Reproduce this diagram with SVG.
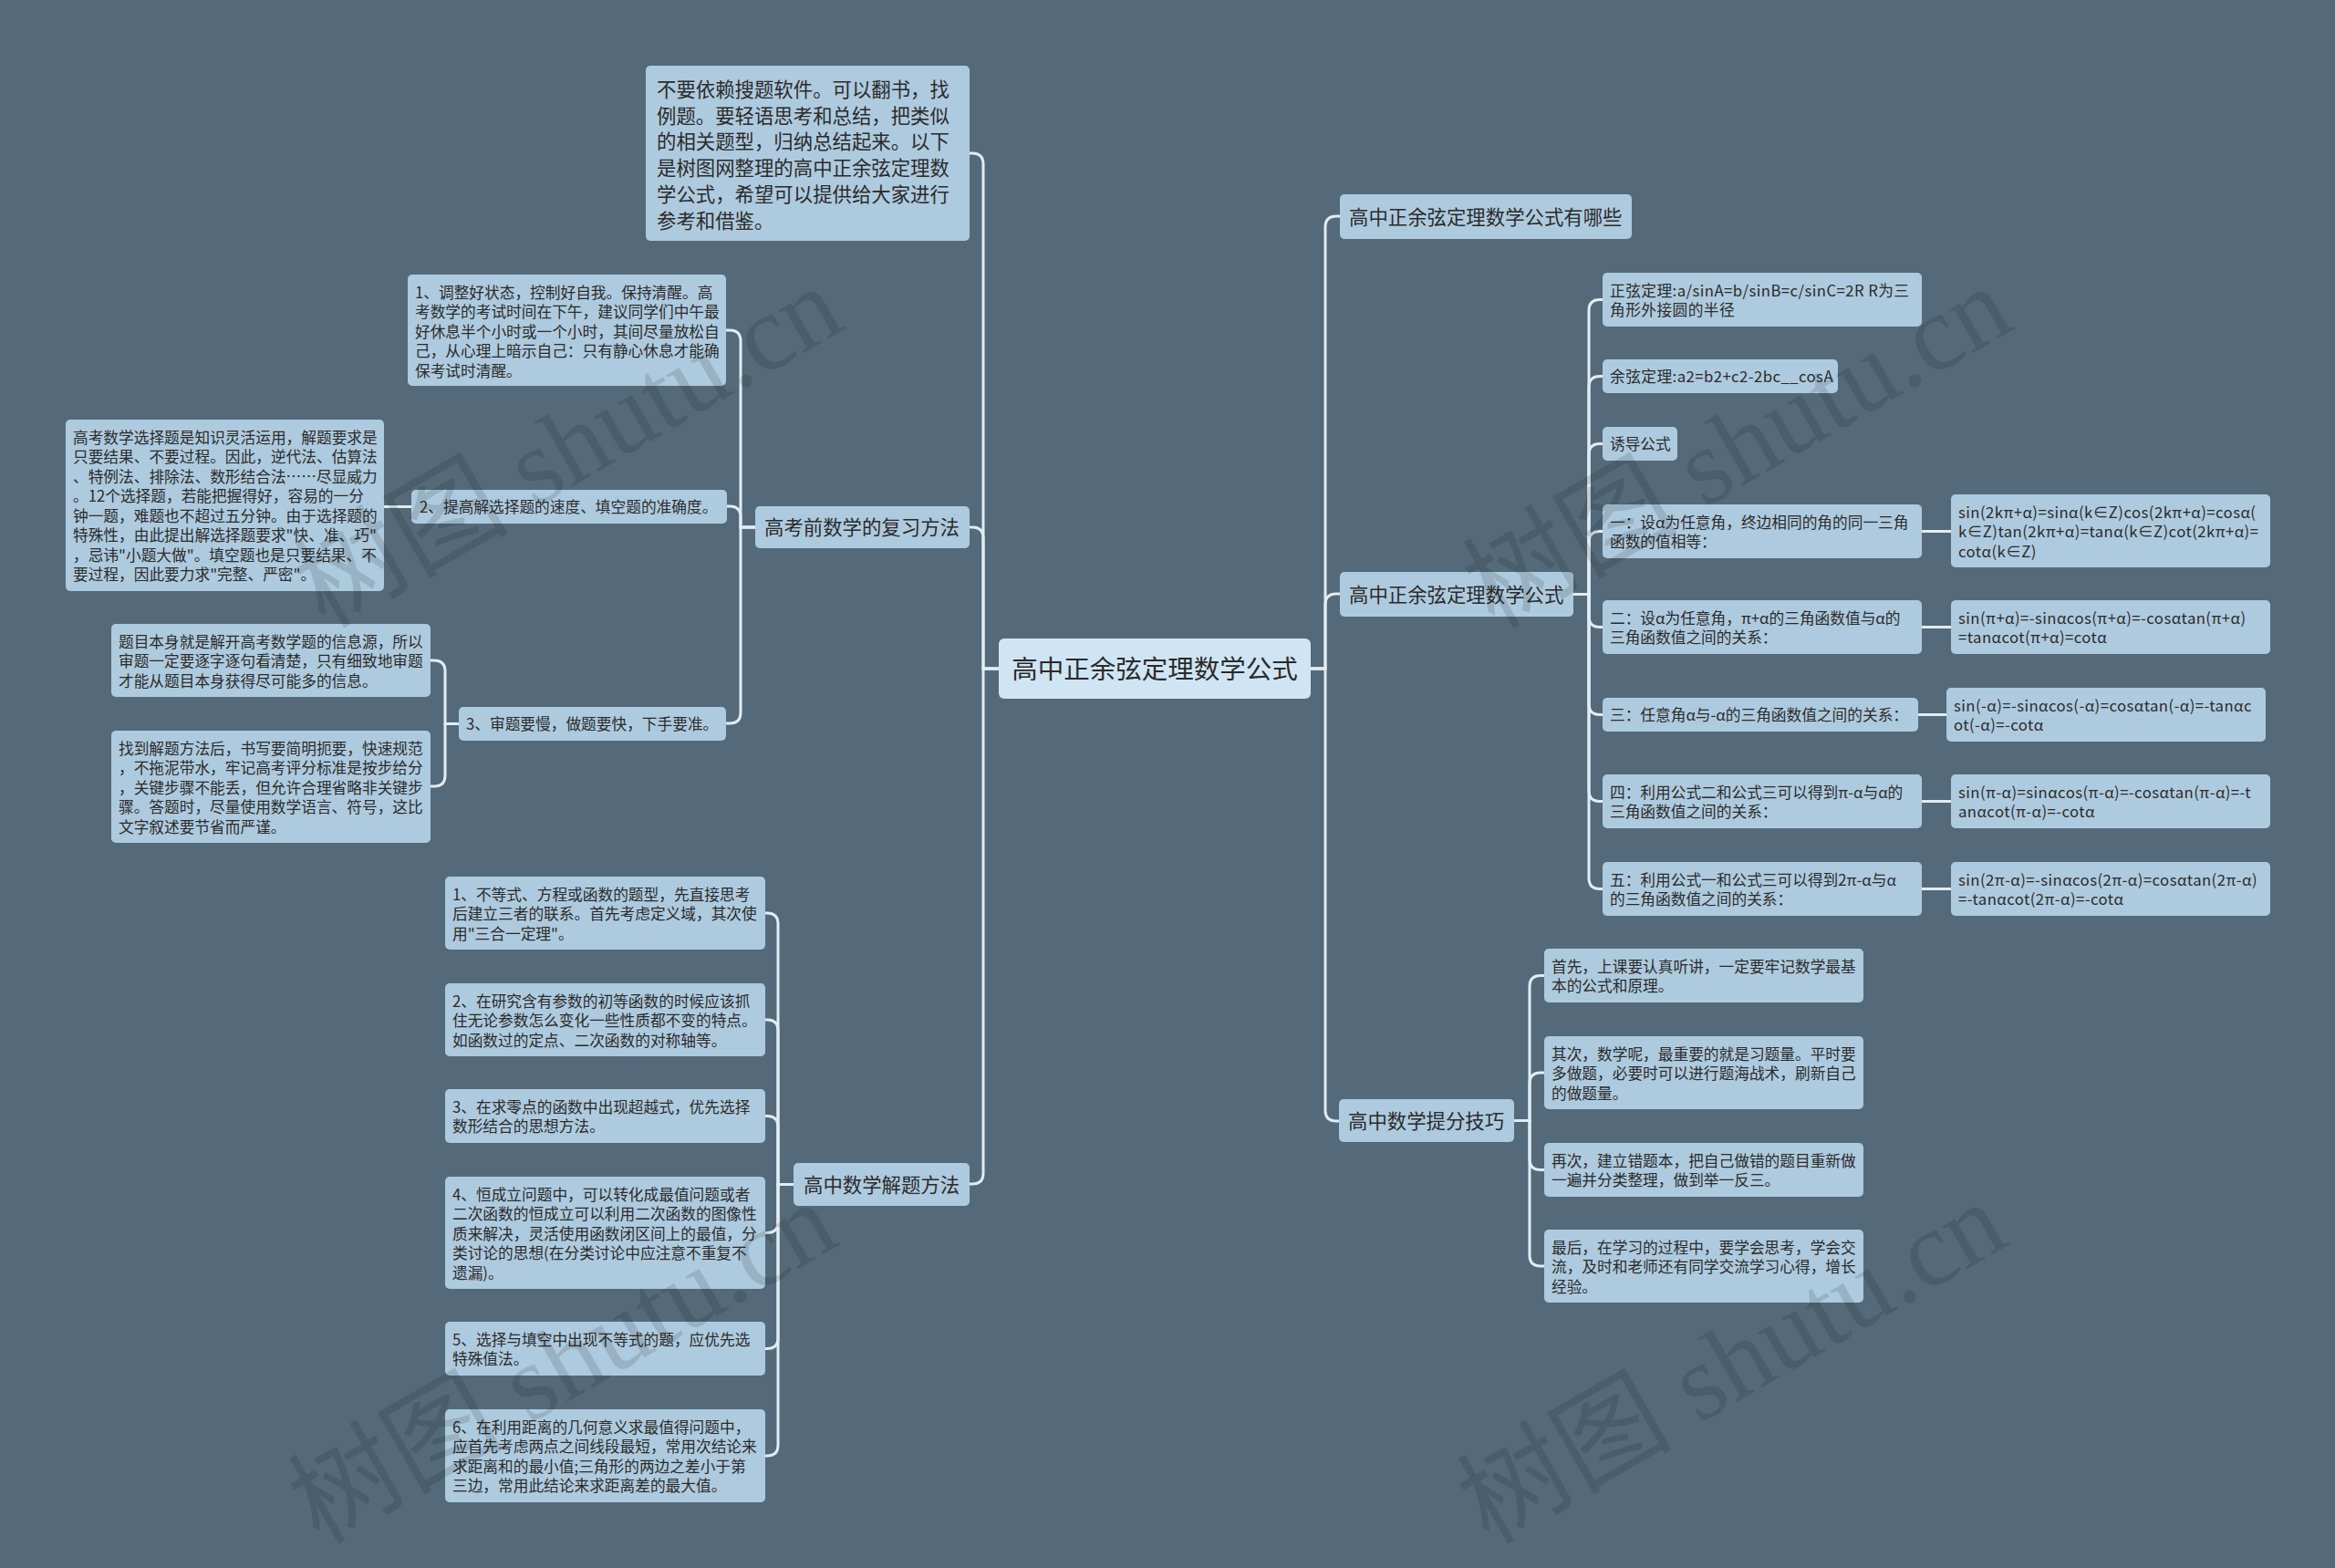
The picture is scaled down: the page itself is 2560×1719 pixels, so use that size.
<svg xmlns="http://www.w3.org/2000/svg" width="2560" height="1719" viewBox="0 0 2560 1719">
<style>
.bg{fill:#546a7a}
.box{fill:#aecade}
.rootbox{fill:#d0e5f3}
text{font-family:"Noto Sans CJK SC","Microsoft YaHei",sans-serif;fill:#2b2b2b}
.s{font-size:16.7px}
.m{font-size:21.4px}
.l{font-size:28.5px}
.f{letter-spacing:0.45px}
.conn path{fill:none;stroke:#e2ecf3;stroke-width:3;stroke-linecap:round}
.wm{font-family:"Liberation Serif","Noto Sans CJK SC",serif;font-size:118px;fill:#000;fill-opacity:0.12}
</style>
<rect class="bg" x="0" y="0" width="2560" height="1719"/>

<g class="conn" id="connectors">
<path d="M1095 733 H1078 V180 Q1078 168 1066 168 H1063"/>
<path d="M1095 733 H1078 V590 Q1078 578 1066 578 H1063"/>
<path d="M1095 733 H1078 V1286 Q1078 1298 1066 1298 H1063"/>
<path d="M1437 733 H1453 V249 Q1453 237 1465 237 H1469"/>
<path d="M1437 733 H1453 V663 Q1453 651 1465 651 H1469"/>
<path d="M1437 733 H1453 V1217 Q1453 1229 1465 1229 H1468"/>
<path d="M828 578 H812 V374 Q812 362 800 362 H796"/>
<path d="M828 578 H812 V567 Q812 555 800 555 H797"/>
<path d="M828 578 H812 V781 Q812 793 800 793 H796"/>
<path d="M451 555.5 H421"/>
<path d="M503 793.5 H488 V736 Q488 724 476 724 H472"/>
<path d="M503 793.5 H488 V850 Q488 862 476 862 H472"/>
<path d="M870 1298.5 H853 V1013 Q853 1001 841 1001 H839"/>
<path d="M870 1298.5 H853 V1130 Q853 1118 841 1118 H839"/>
<path d="M870 1298.5 H853 V1235.5 Q853 1223.5 841 1223.5 H839"/>
<path d="M870 1298.5 H853 V1339.5 Q853 1351.5 841 1351.5 H839"/>
<path d="M870 1298.5 H853 V1466.5 Q853 1478.5 841 1478.5 H839"/>
<path d="M870 1298.5 H853 V1584 Q853 1596 841 1596 H839"/>
<path d="M1725 651.5 H1742 V340.5 Q1742 328.5 1754 328.5 H1757"/>
<path d="M1725 651.5 H1742 V424.5 Q1742 412.5 1754 412.5 H1757"/>
<path d="M1725 651.5 H1742 V498.5 Q1742 486.5 1754 486.5 H1757"/>
<path d="M1725 651.5 H1742 V594.5 Q1742 582.5 1754 582.5 H1757"/>
<path d="M1725 651.5 H1742 V675.5 Q1742 687.5 1754 687.5 H1757"/>
<path d="M1725 651.5 H1742 V771.5 Q1742 783.5 1754 783.5 H1757"/>
<path d="M1725 651.5 H1742 V866.5 Q1742 878.5 1754 878.5 H1757"/>
<path d="M1725 651.5 H1742 V962.5 Q1742 974.5 1754 974.5 H1757"/>
<path d="M2107 582.5 H2139"/>
<path d="M2107 687.5 H2139"/>
<path d="M2103 783.5 H2134"/>
<path d="M2107 878.5 H2139"/>
<path d="M2107 974.5 H2139"/>
<path d="M1660 1228.5 H1677 V1081.5 Q1677 1069.5 1689 1069.5 H1693"/>
<path d="M1660 1228.5 H1677 V1188 Q1677 1176 1689 1176 H1693"/>
<path d="M1660 1228.5 H1677 V1270.5 Q1677 1282.5 1689 1282.5 H1693"/>
<path d="M1660 1228.5 H1677 V1376 Q1677 1388 1689 1388 H1693"/>
</g>

<g id="root">
<rect class="rootbox" x="1095" y="700" width="342" height="66" rx="6"/>
<text class="l" x="1266" y="744" text-anchor="middle">高中正余弦定理数学公式</text>
</g>

<g id="intro">
<rect class="box" x="708" y="72" width="355" height="192" rx="5"/>
<text class="m" x="720"><tspan x="720" y="106">不要依赖搜题软件。可以翻书，找</tspan><tspan x="720" y="134.7">例题。要轻语思考和总结，把类似</tspan><tspan x="720" y="163.4">的相关题型，归纳总结起来。以下</tspan><tspan x="720" y="192.1">是树图网整理的高中正余弦定理数</tspan><tspan x="720" y="220.8">学公式，希望可以提供给大家进行</tspan><tspan x="720" y="249.5">参考和借鉴。</tspan></text>
</g>

<g id="review">
<rect class="box" x="828" y="555" width="235" height="46" rx="5"/>
<text class="m" x="838" y="586">高考前数学的复习方法</text>
</g>

<g id="review-1">
<rect class="box" x="447" y="301" width="349" height="122" rx="5"/>
<text class="s"><tspan x="455" y="326.5">1、调整好状态，控制好自我。保持清醒。高</tspan><tspan x="455" y="348">考数学的考试时间在下午，建议同学们中午最</tspan><tspan x="455" y="369.5">好休息半个小时或一个小时，其间尽量放松自</tspan><tspan x="455" y="391">己，从心理上暗示自己：只有静心休息才能确</tspan><tspan x="455" y="412.5">保考试时清醒。</tspan></text>
</g>

<g id="review-2">
<rect class="box" x="451" y="537" width="346" height="37" rx="5"/>
<text class="s" x="460" y="562">2、提高解选择题的速度、填空题的准确度。</text>
</g>

<g id="review-2a">
<rect class="box" x="72" y="460" width="349" height="188" rx="5"/>
<text class="s"><tspan x="80" y="485.5">高考数学选择题是知识灵活运用，解题要求是</tspan><tspan x="80" y="507">只要结果、不要过程。因此，逆代法、估算法</tspan><tspan x="80" y="528.5">、特例法、排除法、数形结合法……尽显威力</tspan><tspan x="80" y="550">。12个选择题，若能把握得好，容易的一分</tspan><tspan x="80" y="571.5">钟一题，难题也不超过五分钟。由于选择题的</tspan><tspan x="80" y="593">特殊性，由此提出解选择题要求"快、准、巧"</tspan><tspan x="80" y="614.5">，忌讳"小题大做"。填空题也是只要结果、不</tspan><tspan x="80" y="636">要过程，因此要力求"完整、严密"。</tspan></text>
</g>

<g id="review-3">
<rect class="box" x="503" y="775" width="293" height="37" rx="5"/>
<text class="s" x="511" y="800">3、审题要慢，做题要快，下手要准。</text>
</g>

<g id="review-3a">
<rect class="box" x="122" y="684" width="350" height="80" rx="5"/>
<text class="s"><tspan x="130" y="709.5">题目本身就是解开高考数学题的信息源，所以</tspan><tspan x="130" y="731">审题一定要逐字逐句看清楚，只有细致地审题</tspan><tspan x="130" y="752.5">才能从题目本身获得尽可能多的信息。</tspan></text>
</g>

<g id="review-3b">
<rect class="box" x="122" y="801" width="350" height="123" rx="5"/>
<text class="s"><tspan x="130" y="826.5">找到解题方法后，书写要简明扼要，快速规范</tspan><tspan x="130" y="848">，不拖泥带水，牢记高考评分标准是按步给分</tspan><tspan x="130" y="869.5">，关键步骤不能丢，但允许合理省略非关键步</tspan><tspan x="130" y="891">骤。答题时，尽量使用数学语言、符号，这比</tspan><tspan x="130" y="912.5">文字叙述要节省而严谨。</tspan></text>
</g>

<g id="methods">
<rect class="box" x="870" y="1275" width="193" height="47" rx="5"/>
<text class="m" x="881" y="1306.5">高中数学解题方法</text>
</g>

<g id="method-1">
<rect class="box" x="488" y="961" width="351" height="80" rx="5"/>
<text class="s"><tspan x="496" y="986.5">1、不等式、方程或函数的题型，先直接思考</tspan><tspan x="496" y="1008">后建立三者的联系。首先考虑定义域，其次使</tspan><tspan x="496" y="1029.5">用"三合一定理"。</tspan></text>
</g>

<g id="method-2">
<rect class="box" x="488" y="1078" width="351" height="80" rx="5"/>
<text class="s"><tspan x="496" y="1103.5">2、在研究含有参数的初等函数的时候应该抓</tspan><tspan x="496" y="1125">住无论参数怎么变化一些性质都不变的特点。</tspan><tspan x="496" y="1146.5">如函数过的定点、二次函数的对称轴等。</tspan></text>
</g>

<g id="method-3">
<rect class="box" x="488" y="1194" width="351" height="59" rx="5"/>
<text class="s"><tspan x="496" y="1219.5">3、在求零点的函数中出现超越式，优先选择</tspan><tspan x="496" y="1241">数形结合的思想方法。</tspan></text>
</g>

<g id="method-4">
<rect class="box" x="488" y="1290" width="351" height="123" rx="5"/>
<text class="s"><tspan x="496" y="1315.5">4、恒成立问题中，可以转化成最值问题或者</tspan><tspan x="496" y="1337">二次函数的恒成立可以利用二次函数的图像性</tspan><tspan x="496" y="1358.5">质来解决，灵活使用函数闭区间上的最值，分</tspan><tspan x="496" y="1380">类讨论的思想(在分类讨论中应注意不重复不</tspan><tspan x="496" y="1401.5">遗漏)。</tspan></text>
</g>

<g id="method-5">
<rect class="box" x="488" y="1449" width="351" height="59" rx="5"/>
<text class="s"><tspan x="496" y="1474.5">5、选择与填空中出现不等式的题，应优先选</tspan><tspan x="496" y="1496">特殊值法。</tspan></text>
</g>

<g id="method-6">
<rect class="box" x="488" y="1545" width="351" height="102" rx="5"/>
<text class="s"><tspan x="496" y="1570.5">6、在利用距离的几何意义求最值得问题中，</tspan><tspan x="496" y="1592">应首先考虑两点之间线段最短，常用次结论来</tspan><tspan x="496" y="1613.5">求距离和的最小值;三角形的两边之差小于第</tspan><tspan x="496" y="1635">三边，常用此结论来求距离差的最大值。</tspan></text>
</g>

<g id="which">
<rect class="box" x="1469" y="213" width="320" height="49" rx="5"/>
<text class="m" x="1479" y="245.5">高中正余弦定理数学公式有哪些</text>
</g>

<g id="formulas">
<rect class="box" x="1469" y="627" width="256" height="49" rx="5"/>
<text class="m" x="1479" y="659.5">高中正余弦定理数学公式</text>
</g>

<g id="sine-law">
<rect class="box" x="1757" y="299" width="350" height="59" rx="5"/>
<text class="s f"><tspan x="1765" y="324.5">正弦定理:a/sinA=b/sinB=c/sinC=2R R为三</tspan><tspan x="1765" y="346">角形外接圆的半径</tspan></text>
</g>

<g id="cosine-law">
<rect class="box" x="1757" y="394" width="258" height="37" rx="5"/>
<text class="s f" x="1765" y="419">余弦定理:a2=b2+c2-2bc__cosA</text>
</g>

<g id="induction">
<rect class="box" x="1757" y="468" width="82" height="37" rx="5"/>
<text class="s" x="1765" y="493">诱导公式</text>
</g>

<g id="rule-1">
<rect class="box" x="1757" y="553" width="350" height="59" rx="5"/>
<text class="s"><tspan x="1765" y="578.5">一：设α为任意角，终边相同的角的同一三角</tspan><tspan x="1765" y="600">函数的值相等：</tspan></text>
</g>

<g id="rule-2">
<rect class="box" x="1757" y="658" width="350" height="59" rx="5"/>
<text class="s"><tspan x="1765" y="683.5">二：设α为任意角，π+α的三角函数值与α的</tspan><tspan x="1765" y="705">三角函数值之间的关系：</tspan></text>
</g>

<g id="rule-3">
<rect class="box" x="1757" y="765" width="346" height="37" rx="5"/>
<text class="s" x="1765" y="790">三：任意角α与-α的三角函数值之间的关系：</text>
</g>

<g id="rule-4">
<rect class="box" x="1757" y="849" width="350" height="59" rx="5"/>
<text class="s"><tspan x="1765" y="874.5">四：利用公式二和公式三可以得到π-α与α的</tspan><tspan x="1765" y="896">三角函数值之间的关系：</tspan></text>
</g>

<g id="rule-5">
<rect class="box" x="1757" y="945" width="350" height="59" rx="5"/>
<text class="s"><tspan x="1765" y="970.5">五：利用公式一和公式三可以得到2π-α与α</tspan><tspan x="1765" y="992">的三角函数值之间的关系：</tspan></text>
</g>

<g id="formula-1">
<rect class="box" x="2139" y="542" width="350" height="80" rx="5"/>
<text class="s f"><tspan x="2147" y="567.5">sin(2kπ+α)=sinα(k∈Z)cos(2kπ+α)=cosα(</tspan><tspan x="2147" y="589">k∈Z)tan(2kπ+α)=tanα(k∈Z)cot(2kπ+α)=</tspan><tspan x="2147" y="610.5">cotα(k∈Z)</tspan></text>
</g>

<g id="formula-2">
<rect class="box" x="2139" y="658" width="350" height="59" rx="5"/>
<text class="s f"><tspan x="2147" y="683.5">sin(π+α)=-sinαcos(π+α)=-cosαtan(π+α)</tspan><tspan x="2147" y="705">=tanαcot(π+α)=cotα</tspan></text>
</g>

<g id="formula-3">
<rect class="box" x="2134" y="754" width="350" height="59" rx="5"/>
<text class="s f"><tspan x="2142" y="779.5">sin(-α)=-sinαcos(-α)=cosαtan(-α)=-tanαc</tspan><tspan x="2142" y="801">ot(-α)=-cotα</tspan></text>
</g>

<g id="formula-4">
<rect class="box" x="2139" y="849" width="350" height="59" rx="5"/>
<text class="s f"><tspan x="2147" y="874.5">sin(π-α)=sinαcos(π-α)=-cosαtan(π-α)=-t</tspan><tspan x="2147" y="896">anαcot(π-α)=-cotα</tspan></text>
</g>

<g id="formula-5">
<rect class="box" x="2139" y="945" width="350" height="59" rx="5"/>
<text class="s f"><tspan x="2147" y="970.5">sin(2π-α)=-sinαcos(2π-α)=cosαtan(2π-α)</tspan><tspan x="2147" y="992">=-tanαcot(2π-α)=-cotα</tspan></text>
</g>

<g id="tips">
<rect class="box" x="1468" y="1205" width="192" height="47" rx="5"/>
<text class="m" x="1478" y="1236.5">高中数学提分技巧</text>
</g>

<g id="tip-1">
<rect class="box" x="1693" y="1040" width="350" height="59" rx="5"/>
<text class="s"><tspan x="1701" y="1065.5">首先，上课要认真听讲，一定要牢记数学最基</tspan><tspan x="1701" y="1087">本的公式和原理。</tspan></text>
</g>

<g id="tip-2">
<rect class="box" x="1693" y="1136" width="350" height="80" rx="5"/>
<text class="s"><tspan x="1701" y="1161.5">其次，数学呢，最重要的就是习题量。平时要</tspan><tspan x="1701" y="1183">多做题，必要时可以进行题海战术，刷新自己</tspan><tspan x="1701" y="1204.5">的做题量。</tspan></text>
</g>

<g id="tip-3">
<rect class="box" x="1693" y="1253" width="350" height="59" rx="5"/>
<text class="s"><tspan x="1701" y="1278.5">再次，建立错题本，把自己做错的题目重新做</tspan><tspan x="1701" y="1300">一遍并分类整理，做到举一反三。</tspan></text>
</g>

<g id="tip-4">
<rect class="box" x="1693" y="1348" width="350" height="80" rx="5"/>
<text class="s"><tspan x="1701" y="1373.5">最后，在学习的过程中，要学会思考，学会交</tspan><tspan x="1701" y="1395">流，及时和老师还有同学交流学习心得，增长</tspan><tspan x="1701" y="1416.5">经验。</tspan></text>
</g>

<g id="watermarks">
<text class="wm" x="356" y="690" transform="rotate(-30 356 690)">树图 shutu.cn</text>
<text class="wm" x="1638" y="690" transform="rotate(-30 1638 690)">树图 shutu.cn</text>
<text class="wm" x="350" y="1694" transform="rotate(-30 350 1694)">树图 shutu.cn</text>
<text class="wm" x="1632" y="1694" transform="rotate(-30 1632 1694)">树图 shutu.cn</text>
</g>
</svg>
